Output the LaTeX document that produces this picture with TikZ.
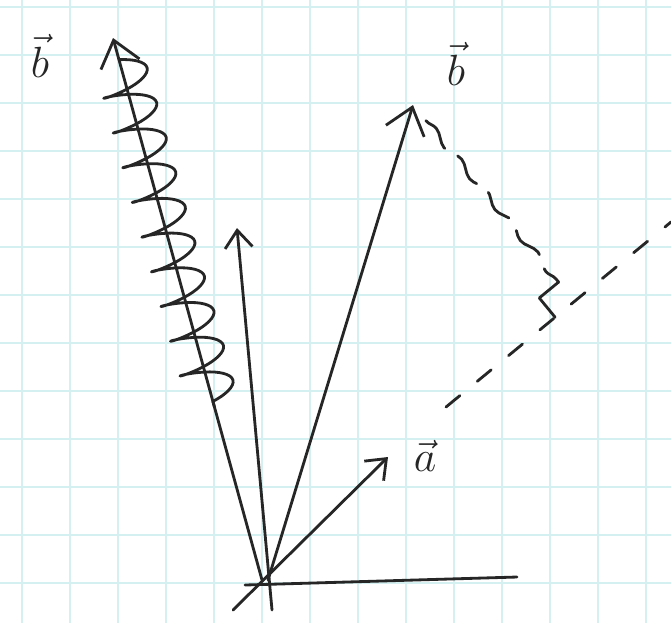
\documentclass[tikz,border=0pt]{standalone}
\usetikzlibrary{arrows.meta,decorations.pathmorphing,calc}

\definecolor{gridcyan}{RGB}{212,240,240}
\definecolor{pencil}{RGB}{38,38,38}

\tikzset{
  gridline/.style={gridcyan, line width=0.9pt},
  pen/.style={pencil, line width=1.6pt, line cap=round, line join=round},
  bigvec/.style={pen, -{Straight Barb[length=5mm, width=8mm, line width=1.6pt]}},
  smallvec/.style={pen, -{Straight Barb[length=3.5mm, width=5.5mm, line width=1.6pt]}},
  helpline/.style={pen, dash pattern=on 0.36cm off 0.45cm},
  perpline/.style={pen, dash pattern=on 0.7cm off 0.3cm,
    decorate, decoration={snake, amplitude=1.8pt, segment length=0.8cm}},
  lbl/.style={font=\fontsize{38}{42}\selectfont, text=pencil, inner sep=0pt}
}

\begin{document}
\begin{tikzpicture}[x=0.02cm, y=-0.02cm]
  % Paper
  \useasboundingbox (0,0) rectangle (671,623);
  \fill[white] (0,0) rectangle (671,623);
  \foreach \gx in {22,70,...,646} \draw[gridline] (\gx,0) -- (\gx,623);
  \foreach \gy in {7,55,...,583} \draw[gridline] (0,\gy) -- (671,\gy);

  % Points
  \coordinate (O) at (268,580);
  \coordinate (xleft) at (245,585);
  \coordinate (xright) at (517,577);
  \coordinate (ybot) at (272,610);
  \coordinate (ytip) at (237,228);
  \coordinate (abot) at (233,610);
  \coordinate (atip) at (388,457);
  \coordinate (btip) at (413,105);
  \coordinate (rtip) at (113,38);
  \coordinate (rbot) at (262,580);
  \coordinate (dA) at (446,407);
  \coordinate (dB) at (671,222);
  \coordinate (foot) at ($(dA)!(btip)!(dB)$);
  \coordinate (mkb) at ($(foot)!0.5cm!(btip)$);
  \coordinate (mka) at ($(foot)!0.5cm!(dA)$);

  % Axis and vectors
  \draw[pen] (xleft) -- (xright);
  \draw[smallvec] (ybot) -- (ytip);
  \draw[smallvec] (abot) -- (atip);
  \draw[bigvec] (O) -- (btip);
  \draw[bigvec] (rbot) -- (rtip);

  % Coil round the reflected vector
  \draw[pen, decorate, decoration={coil, aspect=0.25, amplitude=0.5cm, segment length=0.72cm}]
    ($(rtip)!0.04!(rbot)$) -- ($(rtip)!0.68!(rbot)$);

  % Projection of b onto a
  \draw[helpline] (dA) -- (dB);
  \draw[perpline] ($(btip)!0.08!(foot)$) -- (mkb);
  \draw[pen] (mkb) -- ($(mkb)+(mka)-(foot)$) -- (mka);

  % Labels
  \node[lbl] (labbl) at (40,56) {$\vec{b}$};
  \node[lbl] (labbr) at (456,64) {$\vec{b}$};
  \node[lbl] (laba) at (425,456) {$\vec{a}$};
\end{tikzpicture}
\end{document}
